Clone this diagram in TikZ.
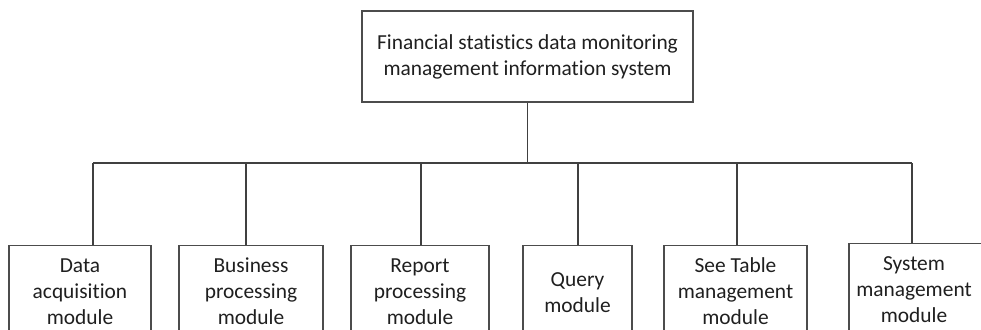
\documentclass[tikz,border=0pt]{standalone}
\usepackage{fontspec}
\setmainfont[Ligatures=NoCommon]{Carlito}
\begin{document}
\begin{tikzpicture}[x=1pt,y=-1pt,
  every node/.style={text=black!88, font=\fontsize{21.4}{26}\selectfont},
  topbox/.style={draw=black!70, line width=1.1pt, align=center, minimum width=331pt, minimum height=91pt, inner sep=0pt},
  mod/.style={draw=black!70, line width=1.1pt, anchor=north, inner xsep=0pt, inner ysep=8.8pt},
  link/.style={draw=black!75, line width=1.1pt}]
\useasboundingbox (0,0) rectangle (981,329);
\clip (0,0) rectangle (981,329);
\node[topbox] (top) at (527.5,56.5) {Financial statistics data monitoring\\management information system};
\node[mod] (b1) at (80,245) {\parbox[t][110pt][t]{142pt}{\centering\strut Data\\acquisition\\module}};
\node[mod] (b2) at (251,245) {\parbox[t][110pt][t]{144pt}{\centering\strut Business\\processing\\module}};
\node[mod] (b3) at (420,245) {\parbox[t][110pt][t]{138pt}{\centering\strut Report\\processing\\module}};
\node[mod, inner ysep=22.3pt] (b4) at (577.5,245) {\parbox[t][110pt][t]{109pt}{\centering\strut Query\\module}};
\node[mod] (b5) at (735.5,245) {\parbox[t][110pt][t]{143pt}{\centering\strut See Table\\management\\module}};
\node[mod] (b6) at (920,242.7) {\parbox[t][110pt][t]{142pt}{\centering\rightskip=12pt plus 1fil\strut System\\management\\module}};
\coordinate (j1) at (93,163);
\coordinate (j2) at (246,163);
\coordinate (j3) at (421,163);
\coordinate (j4) at (578,163);
\coordinate (j5) at (737,163);
\coordinate (j6) at (912,163);
\draw[link] (top.south) -- (top.south |- j1);
\draw[link] (j1) -- (j6);
\draw[link] (j1) -- (j1 |- b1.north);
\draw[link] (j2) -- (j2 |- b2.north);
\draw[link] (j3) -- (j3 |- b3.north);
\draw[link] (j4) -- (j4 |- b4.north);
\draw[link] (j5) -- (j5 |- b5.north);
\draw[link] (j6) -- (j6 |- b6.north);
\end{tikzpicture}
\end{document}
